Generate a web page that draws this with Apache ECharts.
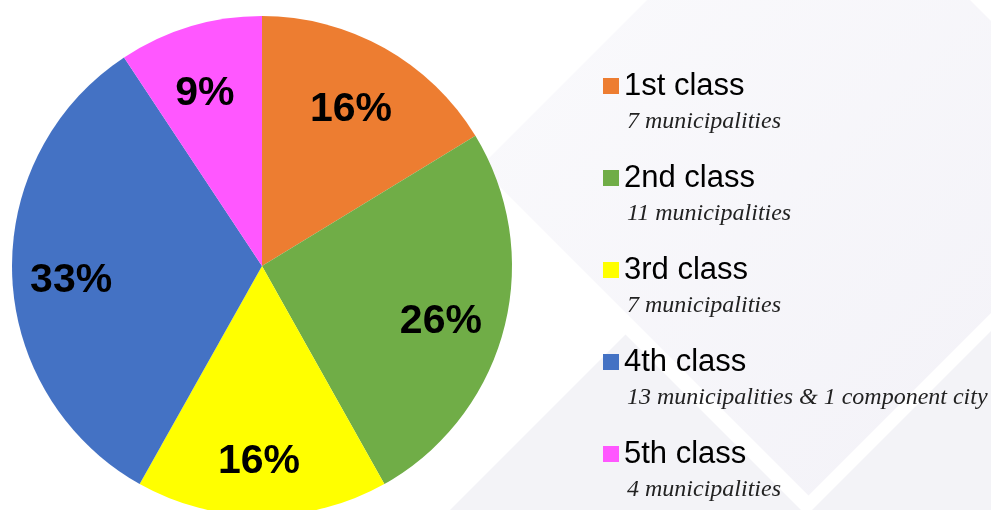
<!DOCTYPE html>
<html>
<head>
<meta charset="utf-8">
<title>Municipal income classes</title>
<script src="https://cdn.jsdelivr.net/npm/echarts@6/dist/echarts.min.js"></script>
<style>
  html, body { margin: 0; padding: 0; background: #fff; }
  #chart { width: 991px; height: 510px; }
</style>
</head>
<body>
<div id="chart"></div>
<script>
// data
var classNames = ['1st class', '2nd class', '3rd class', '4th class', '5th class'];
var unitCounts = [7, 11, 7, 14, 4];
var unitNotes = [
    '7 municipalities',
    '11 municipalities',
    '7 municipalities',
    '13 municipalities & 1 component city',
    '4 municipalities'
];
var sliceColors = ['#ED7D31', '#70AD47', '#FFFF00', '#4472C4', '#FF57FF'];

var chart = echarts.init(document.getElementById('chart'));

var pieData = classNames.map(function (n, i) {
    return { name: n, value: unitCounts[i], itemStyle: { color: sliceColors[i] } };
});
var labelData = classNames.map(function (n, i) {
    return { name: n, value: unitCounts[i] };
});

var option = {
    animation: false,
    backgroundColor: '#ffffff',
    // light diamond shapes behind the legend
    graphic: {
        elements: [
            {
                type: 'polygon', z: 0, silent: true,
                shape: { points: [[808.5, -161.5], [1137, 167], [808.5, 495.5], [480, 167]] },
                style: {
                    fill: new echarts.graphic.LinearGradient(0, 0, 1, 1, [
                        { offset: 0, color: '#fbfbfd' },
                        { offset: 1, color: '#f2f1f7' }
                    ])
                }
            },
            {
                type: 'polygon', z: 0, silent: true,
                shape: { points: [[300, 660], [625.5, 334.5], [806.5, 515.5], [1100, 222], [1100, 800], [300, 800]] },
                style: { fill: '#f3f3f7' }
            }
        ]
    },
    legend: {
        orient: 'vertical',
        left: 603,
        top: 39,
        padding: 0,
        itemWidth: 16,
        itemHeight: 16,
        itemGap: -3,
        icon: 'rect',
        data: classNames,
        formatter: function (name) {
            var i = classNames.indexOf(name);
            // blank first line balances the note so the icon sits beside the title
            return '{s|\u00a0}\n{a|' + name + '}\n{b|' + unitNotes[i] + '}';
        },
        textStyle: {
            rich: {
                s: { fontSize: 22, lineHeight: 26, color: 'rgba(0,0,0,0)' },
                a: { fontSize: 31, lineHeight: 46, color: '#000', fontFamily: 'Liberation Sans, Arial, sans-serif' },
                b: { fontSize: 24, lineHeight: 26, color: '#222', fontStyle: 'italic', fontFamily: 'Liberation Serif, Times New Roman, serif', padding: [0, 0, 0, 3] }
            }
        }
    },
    series: [
        {
            type: 'pie',
            center: [262, 266],
            radius: 250,
            startAngle: 90,
            clockwise: true,
            label: { show: false },
            labelLine: { show: false },
            emphasis: { disabled: true },
            data: pieData
        },
        {
            // transparent ring only to carry the percent labels further out
            type: 'pie',
            center: [262, 266],
            radius: [120, 250],
            startAngle: 90,
            clockwise: true,
            silent: true,
            itemStyle: { color: 'rgba(0,0,0,0)' },
            emphasis: { disabled: true },
            labelLine: { show: false },
            label: {
                show: true,
                position: 'inside',
                offset: [-3, 8],
                color: '#000',
                fontSize: 41,
                fontWeight: 'bold',
                fontFamily: 'Liberation Sans, Arial, sans-serif',
                formatter: function (p) { return Math.round(p.percent) + '%'; }
            },
            data: labelData
        }
    ]
};

chart.setOption(option);
</script>
</body>
</html>
